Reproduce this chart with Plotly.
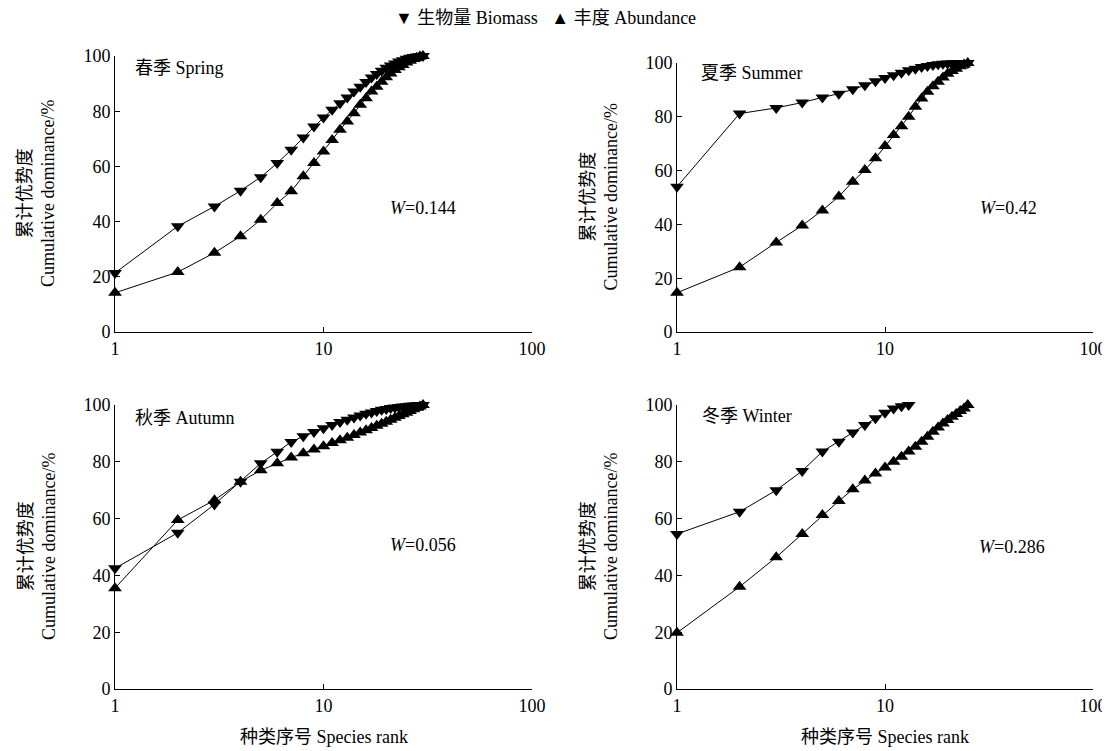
import plotly.graph_objects as go

# ---- data (species rank vs cumulative dominance %) ----
spring_biomass = [21.4, 38.3, 45.5, 51.2, 56.1, 61.2, 66.0, 70.5, 74.5, 77.7,
                  80.5, 82.9, 85.0, 87.1, 88.9, 90.6, 92.2, 93.5, 94.7, 95.7,
                  96.6, 97.3, 98.0, 98.5, 99.0, 99.4, 99.6, 99.8, 99.9, 100.0]
spring_abundance = [14.2, 21.7, 28.7, 34.7, 40.7, 46.7, 51.0, 56.4, 61.2, 65.4,
                    69.6, 73.3, 76.3, 79.3, 82.3, 84.7, 87.1, 88.9, 90.7, 92.3,
                    93.7, 94.9, 95.9, 96.7, 97.6, 98.3, 98.9, 99.4, 99.8, 100.0]

summer_biomass = [54.0, 81.2, 83.3, 85.3, 87.2, 88.6, 90.2, 91.7, 93.2, 94.4,
                  95.4, 96.4, 97.3, 97.9, 98.5, 98.9, 99.3, 99.5, 99.7, 99.8,
                  99.9, 99.9, 100.0, 100.0, 100.0]
summer_abundance = [14.6, 24.1, 33.3, 39.6, 45.2, 50.4, 55.9, 60.2, 64.6, 69.1,
                    73.2, 76.5, 80.0, 83.7, 86.8, 89.3, 91.4, 93.0, 94.6, 96.0,
                    97.0, 97.9, 98.8, 99.4, 100.0]

autumn_biomass = [42.5, 55.0, 65.0, 73.0, 79.5, 83.5, 87.0, 89.0, 90.5, 91.8,
                  93.0, 94.0, 94.8, 95.6, 96.3, 96.9, 97.4, 97.9, 98.3, 98.6,
                  98.9, 99.1, 99.3, 99.5, 99.6, 99.7, 99.8, 99.9, 99.95, 100.0]
autumn_abundance = [35.5, 59.5, 66.5, 73.0, 77.0, 79.5, 81.5, 83.0, 84.3, 85.5,
                    86.6, 87.6, 88.5, 89.4, 90.3, 91.1, 91.9, 92.7, 93.4, 94.1,
                    94.8, 95.5, 96.1, 96.7, 97.3, 97.9, 98.5, 99.0, 99.5, 100.0]

winter_biomass = [54.6, 62.4, 70.0, 76.8, 83.6, 87.1, 90.3, 93.0, 95.3, 97.3,
                  98.8, 99.6, 100.0]
winter_abundance = [19.8, 36.0, 46.4, 54.6, 61.3, 66.2, 70.3, 73.4, 75.9, 78.0,
                    80.0, 81.8, 83.6, 85.3, 87.1, 88.8, 90.6, 92.1, 93.5, 94.7,
                    95.9, 96.8, 97.9, 98.8, 100.0]

season_labels = ["春季 Spring", "夏季 Summer", "秋季 Autumn", "冬季 Winter"]
w_values = ["0.144", "0.42", "0.056", "0.286"]
x_ticks = [1, 10, 100]
y_ticks = [0, 20, 40, 60, 80, 100]

panels = [
    (spring_biomass, spring_abundance),
    (summer_biomass, summer_abundance),
    (autumn_biomass, autumn_abundance),
    (winter_biomass, winter_abundance),
]

OFF = 8                      # default page margin of the browser (top / left)
W, H = 1110 - OFF, 751 - OFF
FONT = "'Liberation Serif', 'Times New Roman', 'Noto Sans CJK SC', serif"
FS = 18

def px(v):
    return (v - OFF) / W

def py(v):
    return 1 - (v - OFF) / H

# plot-area pixel boxes in page coordinates (left, right, top, bottom)
boxes = [
    (115, 532, 56, 332),
    (677, 1093, 63, 332),
    (115, 532, 405, 689),
    (677, 1093, 405, 689),
]
w_pos = [(423, 208), (1008, 208), (423, 545), (1012, 547)]
lab_pos = [(133, 68), (699, 73), (133, 418), (700, 416)]

fig = go.Figure()
layout = {}
annotations = []

for i, ((bio, abd), (l, r, t, b)) in enumerate(zip(panels, boxes)):
    n = i + 1
    xa = "x" if n == 1 else f"x{n}"
    ya = "y" if n == 1 else f"y{n}"
    for vals, sym in ((bio, "triangle-down"), (abd, "triangle-up")):
        ranks = list(range(1, len(vals) + 1))
        fig.add_trace(go.Scatter(
            x=ranks, y=vals, mode="lines+markers", xaxis=xa, yaxis=ya,
            line=dict(color="black", width=1),
            marker=dict(symbol=sym, size=12, color="black"),
            cliponaxis=False, showlegend=False))
    xkey = "xaxis" if n == 1 else f"xaxis{n}"
    ykey = "yaxis" if n == 1 else f"yaxis{n}"
    layout[xkey] = dict(
        type="log", range=[0, 2], domain=[px(l), px(r)], anchor=ya,
        tickvals=x_ticks, ticktext=[str(v) for v in x_ticks],
        ticks="inside", ticklen=5, tickcolor="black",
        showline=True, linecolor="black", linewidth=1,
        showgrid=False, zeroline=False, automargin=False,
        ticklabeloverflow="allow",
        tickfont=dict(family=FONT, size=FS, color="black"))
    layout[ykey] = dict(
        range=[0, 100], domain=[py(b), py(t)], anchor=xa,
        tickvals=y_ticks, ticks="inside", ticklen=5, tickcolor="black",
        showline=True, linecolor="black", linewidth=1,
        showgrid=False, zeroline=False, automargin=False,
        ticklabeloverflow="allow",
        tickfont=dict(family=FONT, size=FS, color="black"))
    # season label
    annotations.append(dict(
        text=season_labels[i], xref="paper", yref="paper",
        x=px(lab_pos[i][0]), y=py(lab_pos[i][1]), xanchor="left", yanchor="middle",
        showarrow=False, font=dict(family=FONT, size=FS, color="black")))
    # W value
    annotations.append(dict(
        text=f"<i>W</i>=" + w_values[i], xref="paper", yref="paper",
        x=px(w_pos[i][0]), y=py(w_pos[i][1]),
        xanchor="center", yanchor="middle",
        showarrow=False, font=dict(family=FONT, size=FS, color="black")))
    # y-axis title
    annotations.append(dict(
        text="累计优势度<br>Cumulative dominance/%", xref="paper", yref="paper",
        x=px(l - 78), y=py((t + b) / 2), xanchor="center", yanchor="middle",
        textangle=-90, showarrow=False,
        font=dict(family=FONT, size=FS, color="black")))
    if i >= 2:
        annotations.append(dict(
            text="种类序号 Species rank", xref="paper", yref="paper",
            x=px((l + r) / 2), y=py(737), xanchor="center", yanchor="middle",
            showarrow=False, font=dict(family=FONT, size=FS, color="black")))

# legend as text
annotations.append(dict(
    text="▼ 生物量 Biomass   ▲ 丰度 Abundance", xref="paper", yref="paper",
    x=px(545), y=py(18), xanchor="center", yanchor="middle",
    showarrow=False, font=dict(family=FONT, size=FS, color="black")))

fig.update_layout(
    width=W, height=H,
    margin=dict(l=0, r=0, t=0, b=0, autoexpand=False),
    plot_bgcolor="white", paper_bgcolor="white",
    annotations=annotations,
    **layout)

fig.write_html("out.html")
